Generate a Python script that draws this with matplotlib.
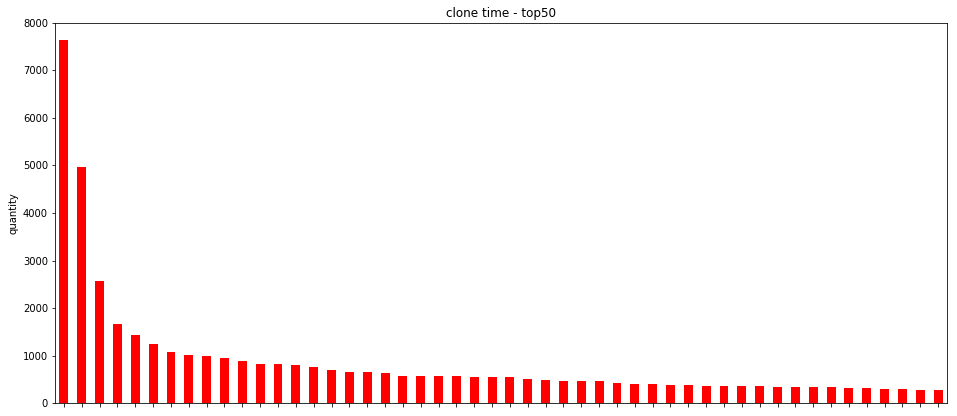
import matplotlib
matplotlib.use("Agg")
import matplotlib.pyplot as plt
import numpy as np

# values (top 50 clone times)
quantity = [7630, 4965, 2570, 1674, 1435, 1246, 1078, 1015, 994, 952,
            889, 826, 826, 805, 763, 700, 658, 658, 637, 574,
            574, 574, 574, 553, 553, 553, 511, 490, 469, 469,
            469, 427, 406, 406, 385, 385, 364, 364, 364, 364,
            343, 343, 343, 343, 322, 322, 301, 301, 280, 280]
tick_labels = [""] * len(quantity)

DPI = 72
fig = plt.figure(figsize=(957 / DPI, 416 / DPI), dpi=DPI)
ax = fig.add_axes([55 / 957, (416 - 403.3) / 416, (947 - 55) / 957, (403.3 - 22.7) / 416])

x = np.arange(len(quantity))
ax.bar(x, quantity, width=0.5, color="red")
ax.set_xlim(-0.5, len(quantity) - 0.5)
ax.set_ylim(0, 8000)
ax.set_xticks(x)
ax.set_xticklabels(tick_labels)
ax.set_yticks(np.arange(0, 8001, 1000))
ax.tick_params(labelsize=10)
ax.set_ylabel("quantity", fontsize=10)
ax.set_title("clone time - top50", fontsize=12)

fig.savefig("out.png", dpi=DPI)
